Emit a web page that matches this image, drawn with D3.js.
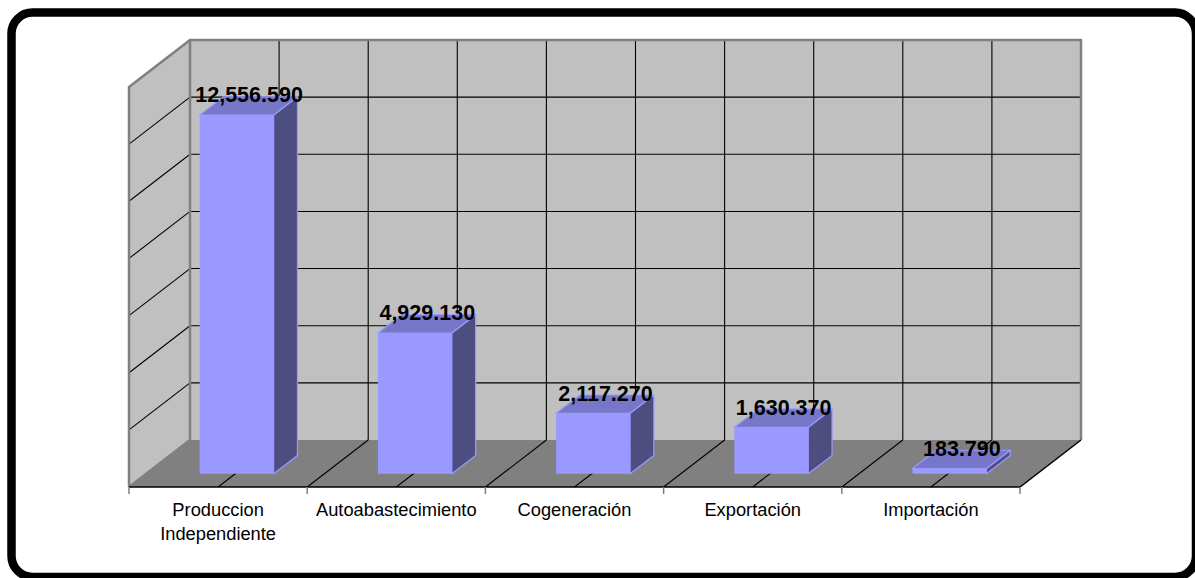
<!DOCTYPE html>
<html>
<head>
<meta charset="utf-8">
<script src="https://cdn.jsdelivr.net/npm/d3@7/dist/d3.min.js"></script>
<style>
  html, body { margin: 0; padding: 0; background: #ffffff; }
  svg { display: block; }
  text { font-family: "Liberation Sans", Arial, sans-serif; }
</style>
</head>
<body>
<svg id="chart" width="1195" height="578"></svg>
<script>
// Generation by scheme (MW)
const categories = ["Produccion Independiente", "Autoabastecimiento", "Cogeneración", "Exportación", "Importación"];
const categoryLines = [["Produccion", "Independiente"], ["Autoabastecimiento"], ["Cogeneración"], ["Exportación"], ["Importación"]];
const values = [12556.59, 4929.13, 2117.27, 1630.37, 183.79];
const valueTicks = [0, 2000, 4000, 6000, 8000, 10000, 12000, 14000];

const svg = d3.select("#chart");

// Frame
svg.append("rect")
  .attr("x", 11.5).attr("y", 12.5)
  .attr("width", 1184.5).attr("height", 564.5)
  .attr("rx", 21).attr("ry", 21)
  .attr("fill", "#ffffff").attr("stroke", "#000000").attr("stroke-width", 8.5);

// Back-wall plane scales
const x = d3.scaleBand().domain(categories).range([190, 1081]).padding(0);
const y = d3.scaleLinear().domain([0, 14000]).range([440, 40]);

// Depth vector (back wall -> front edge of floor)
const DX = -61, DY = 47;
const P = (X, Y, z) => [X + DX * z, Y + DY * z];

const x0 = x.range()[0], x1 = x.range()[1];
const yTop = y(valueTicks[valueTicks.length - 1]), yBase = y(0);
const bw = x.bandwidth();

const wallFill = "#c0c0c0", floorFill = "#808080", edge = "#808080";
const line = d3.line();

// Back wall
svg.append("path")
  .attr("d", line([[x0, yTop], [x1, yTop], [x1, yBase], [x0, yBase]]) + "Z")
  .attr("fill", wallFill);
// Side wall
svg.append("path")
  .attr("d", line([P(x0, yTop, 0), P(x0, yTop, 1), P(x0, yBase, 1), P(x0, yBase, 0)]) + "Z")
  .attr("fill", wallFill);
// Floor
svg.append("path")
  .attr("d", line([P(x0, yBase, 0), P(x1, yBase, 0), P(x1, yBase, 1), P(x0, yBase, 1)]) + "Z")
  .attr("fill", floorFill);

// Category gridlines at band edges and band middles
const gridX = [];
categories.forEach(c => { gridX.push(x(c)); gridX.push(x(c) + bw / 2); });
gridX.push(x1);

const grid = svg.append("g").attr("stroke", "#000000").attr("stroke-width", 1.1).attr("fill", "none");
// vertical lines on back wall
gridX.slice(1, -1).forEach(gx => {
  grid.append("path").attr("d", line([[gx, yTop], [gx, yBase]]));
});
// horizontal lines on back wall and side wall
valueTicks.slice(1, -1).forEach(t => {
  grid.append("path").attr("d", line([[x0, y(t)], [x1, y(t)]]));
  grid.append("path").attr("d", line([P(x0, y(t), 0), P(x0, y(t), 1)]));
});
// floor lines
gridX.slice(1, -1).forEach(gx => {
  grid.append("path").attr("d", line([P(gx, yBase, 0), P(gx, yBase, 1)]));
});

// Wall borders
const border = svg.append("g").attr("stroke", edge).attr("stroke-width", 2.5).attr("fill", "none")
  .attr("stroke-linejoin", "round");
border.append("path").attr("d", line([[x0, yBase], [x0, yTop], [x1, yTop], [x1, yBase]]));
border.append("path").attr("d", line([P(x0, yTop, 0), P(x0, yTop, 1), P(x0, yBase, 1)]));
border.append("path").attr("d", line([P(x0, yBase, 0), P(x0, yBase, 1)]));

// Floor front and right edges
svg.append("path")
  .attr("d", line([P(x0, yBase, 1), P(x1, yBase, 1), P(x1, yBase, 0)]))
  .attr("fill", "none").attr("stroke", "#000000").attr("stroke-width", 1.5);

// Category tick marks below the front edge
const tickX = categories.map(c => x(c)).concat([x1]);
svg.append("g").selectAll("path").data(tickX).join("path")
  .attr("d", tx => { const p = P(tx, yBase, 1); return line([p, [p[0], p[1] + 7]]); })
  .attr("stroke", "#808080").attr("stroke-width", 1.5);

// Bars
const zFront = 0.72, zBack = 0.33, zMid = (zFront + zBack) / 2;
const barFrac = 0.415;
const bars = svg.append("g");
categories.forEach((c, i) => {
  const cx = x(c) + bw / 2 + 1.5;
  const L = cx - bw * barFrac / 2, R = cx + bw * barFrac / 2;
  const T = y(values[i]), B = y(0);
  const g = bars.append("g").attr("stroke", "#9999ff").attr("stroke-width", 1.2).attr("stroke-linejoin", "round");
  // right side
  g.append("path")
    .attr("d", line([P(R, T, zFront), P(R, T, zBack), P(R, B, zBack), P(R, B, zFront)]) + "Z")
    .attr("fill", "#4d4d80");
  // top
  g.append("path")
    .attr("d", line([P(L, T, zFront), P(R, T, zFront), P(R, T, zBack), P(L, T, zBack)]) + "Z")
    .attr("fill", "#7777c9");
  // front
  g.append("path")
    .attr("d", line([P(L, T, zFront), P(R, T, zFront), P(R, B, zFront), P(L, B, zFront)]) + "Z")
    .attr("fill", "#9999ff").attr("stroke", "none");
});

// Value labels
const fmt = d3.format(",.3f");
svg.append("g").selectAll("text").data(categories).join("text")
  .attr("x", (c) => P(x(c) + bw / 2 + 2, 0, zMid)[0])
  .attr("y", (c, i) => P(0, y(values[i]), zMid)[1] - 3.5)
  .attr("text-anchor", "middle")
  .attr("font-size", 21.5).attr("font-weight", "bold").attr("fill", "#000000")
  .text((c, i) => fmt(values[i]));

// Category labels
const catG = svg.append("g");
categories.forEach((c, i) => {
  const p = P(x(c) + bw / 2, yBase, 1);
  const t = catG.append("text")
    .attr("x", p[0]).attr("y", 516)
    .attr("text-anchor", "middle")
    .attr("font-size", 18.3).attr("fill", "#000000");
  categoryLines[i].forEach((s, k) => {
    t.append("tspan").attr("x", p[0]).attr("y", 516 + k * 24).text(s);
  });
});
</script>
</body>
</html>
